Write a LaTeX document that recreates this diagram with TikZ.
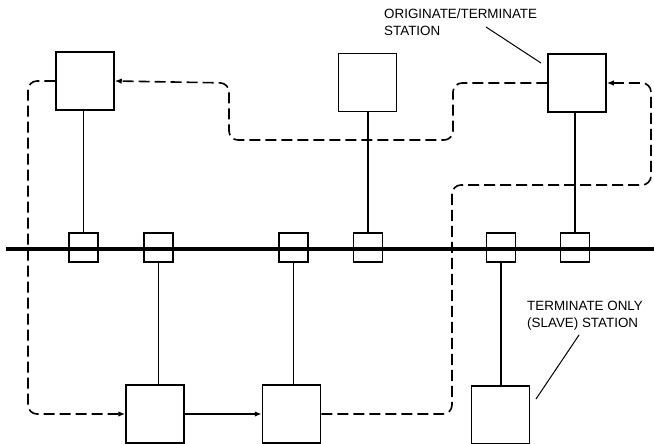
\documentclass[tikz,border=0pt]{standalone}
\usepackage{fontspec}
\setmainfont{Liberation Sans}
\usetikzlibrary{arrows.meta}
\begin{document}
\begin{tikzpicture}[x=1pt,y=-1pt,
  station/.style={draw, line width=1.5pt, minimum width=58pt, minimum height=58pt, inner sep=0pt, fill=white},
  tapbox/.style={draw, line width=1.1pt, minimum width=29pt, minimum height=29pt, inner sep=0pt},
  link/.style={line width=1.1pt},
  ring/.style={line width=1.6pt, dash pattern=on 11pt off 5pt, rounded corners=9pt},
  arr/.style={-{Latex[length=7pt,width=5.5pt]}},
  lbl/.style={anchor=north west, align=left, inner sep=0pt, font=\fontsize{13.4}{17}\selectfont},
  leader/.style={line width=1pt}]
\useasboundingbox (0,0) rectangle (654,444);

% bus
\coordinate (busL) at (6,249);
\coordinate (busR) at (654,249);

% taps
\node[tapbox] (t1) at (83.5,247.5) {};
\node[tapbox] (t2) at (158.5,247.5) {};
\node[tapbox] (t3) at (293.5,247.5) {};
\node[tapbox] (t4) at (368,247.5) {};
\node[tapbox] (t5) at (501,247.5) {};
\node[tapbox] (t6) at (575,247.5) {};

\draw[line width=3.8pt] (busL) -- (busR);

% stations
\node[station] (A) at (85,81) {};
\node[station] (B) at (367.5,82.5) {};
\node[station] (C) at (577,83) {};
\node[station] (D) at (155,414) {};
\node[station] (E) at (291.5,414) {};
\node[station] (F) at (500.5,415) {};

% drop lines
\draw[link] (t1.north) -- (t1.north |- A.south);
\draw[link] (t2.south) -- (t2.south |- D.north);
\draw[link] (t3.south) -- (t3.south |- E.north);
\draw[link] (t4.north) -- (t4.north |- B.south);
\draw[link] (t6.north) -- (t6.north |- C.south);
\draw[link] (t5.south) -- (t5.south |- F.north);

% ring path
\draw[ring,arr] (C.west) -- (453,83) -- (453,140) -- (229,140) -- (229,83) -- (A.east);
\draw[ring,arr] (A.west) -- (28,81) -- (28,414) -- (D.west);
\draw[link,line width=1.4pt,arr] (D.east) -- (E.west);
\draw[ring,arr] (E.east) -- (452,414) -- (452,185) -- (651,185) -- (651,83) -- (C.east);

% labels
\node[lbl] (L1) at (384,9) {ORIGINATE/TERMINATE\\STATION};
\coordinate (L1a) at (486,27);
\coordinate (L1b) at (541,63);
\draw[leader] (L1a) -- (L1b);

\node[lbl] (L2) at (527,301) {TERMINATE ONLY\\(SLAVE) STATION};
\coordinate (L2a) at (579,335);
\coordinate (L2b) at (536,399);
\draw[leader] (L2a) -- (L2b);
\end{tikzpicture}
\end{document}
